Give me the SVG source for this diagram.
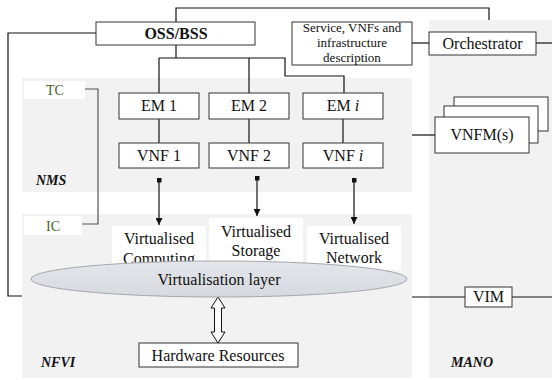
<svg xmlns="http://www.w3.org/2000/svg" width="552" height="380" viewBox="0 0 552 380">
<defs>
<style>
.region{fill:#f2f2f2;stroke:none}
.box{fill:#ffffff;stroke:#333333;stroke-width:1}
.wbox{fill:#ffffff;stroke:none}
.t{font-family:"Liberation Serif","Times New Roman",serif;font-size:16px;fill:#111111;text-anchor:middle}
.s{font-size:13px}
.b{font-weight:bold}
.bi{font-family:"Liberation Serif","Times New Roman",serif;font-size:14px;font-weight:bold;font-style:italic;fill:#111111}
.g{fill:#4f6228;font-size:14px}
.ln{fill:none;stroke:#111111;stroke-width:1.2}
.gl{fill:none;stroke:#555555;stroke-width:1.2}
</style>
<marker id="arr" viewBox="0 0 10 10" refX="10" refY="5" markerWidth="7" markerHeight="7" markerUnits="userSpaceOnUse" orient="auto">
<path d="M0,0 L10,5 L0,10 z" fill="#111111"/>
</marker>
<marker id="sq" viewBox="0 0 10 10" refX="5" refY="5" markerWidth="5" markerHeight="5" markerUnits="userSpaceOnUse" orient="auto">
<rect x="0" y="0" width="10" height="10" fill="#111111"/>
</marker>
<linearGradient id="eg" x1="0" y1="0" x2="0" y2="1">
<stop offset="0" stop-color="#e4e6ea"/>
<stop offset="1" stop-color="#d6d9df"/>
</linearGradient>
</defs>

<g id="regions">
<rect id="nms-region" class="region" x="22" y="78" width="390" height="114"/>
<rect id="nfvi-region" class="region" x="22" y="214" width="390" height="164"/>
<rect id="mano-region" class="region" x="429" y="20" width="123" height="358"/>
</g>

<g id="connectors">
<polyline class="ln" points="176,22 176,8 489,8 489,20"/>
<polyline class="ln" points="96,33 8,33 8,296 22,296"/>
<polyline class="ln" points="176,45 176,58"/>
<polyline class="ln" points="159,58 285,58 285,76 344,76 344,93"/>
<polyline class="ln" points="159,58 159,93"/>
<polyline class="ln" points="249,58 249,93"/>
<polyline class="ln" points="159,119 159,143"/>
<polyline class="ln" points="249,119 249,143"/>
<polyline class="ln" points="343,119 343,143"/>
<polyline class="gl" points="85,89 98,89 98,224 82,224"/>
<line class="ln" x1="159" y1="180" x2="159" y2="225" marker-start="url(#sq)" marker-end="url(#arr)"/>
<line class="ln" x1="257" y1="178" x2="257" y2="216" marker-start="url(#sq)" marker-end="url(#arr)"/>
<line class="ln" x1="354" y1="180" x2="354" y2="224" marker-start="url(#sq)" marker-end="url(#arr)"/>
<line class="ln" x1="412" y1="43" x2="429" y2="43"/>
<line class="ln" x1="536" y1="43" x2="552" y2="43"/>
<line class="ln" x1="412" y1="135" x2="435" y2="135"/>
<line class="ln" x1="412" y1="297" x2="465" y2="297"/>
<line class="ln" x1="512" y1="297" x2="552" y2="297"/>
<path d="M218,297 L225,308 L221.5,308 L221.5,332 L225,332 L218,343 L211,332 L214.5,332 L214.5,308 L211,308 Z" fill="#ffffff" stroke="#111111" stroke-width="1"/>
</g>

<g id="oss-bss">
<rect class="box" x="96" y="22" width="159" height="23"/>
<text class="t b" x="176" y="39" font-size="15">OSS/BSS</text>
</g>

<g id="service-desc">
<rect class="box" x="292" y="22" width="120" height="43"/>
<text class="t s" x="352" y="32">Service, VNFs and</text>
<text class="t s" x="352" y="47">infrastructure</text>
<text class="t s" x="352" y="62">description</text>
</g>

<g id="orchestrator">
<rect class="box" x="429" y="32" width="107" height="23"/>
<text class="t" x="482.5" y="49">Orchestrator</text>
</g>

<g id="vnfm">
<rect class="box" x="454" y="97" width="94" height="34"/>
<rect class="box" x="444" y="106" width="94" height="37"/>
<rect class="box" x="435" y="117" width="94" height="36"/>
<text class="t" x="482" y="140">VNFM(s)</text>
</g>

<g id="tc">
<rect class="wbox" x="24" y="81" width="61" height="18"/>
<text class="t g" x="55" y="95">TC</text>
</g>

<g id="ic">
<rect class="wbox" x="24" y="216" width="58" height="19"/>
<text class="t g" x="53" y="231">IC</text>
</g>

<g id="em1">
<rect class="box" x="119" y="93" width="80" height="26"/>
<text class="t" x="159" y="111">EM 1</text>
</g>
<g id="em2">
<rect class="box" x="209" y="93" width="80" height="26"/>
<text class="t" x="249" y="111">EM 2</text>
</g>
<g id="emi">
<rect class="box" x="303" y="93" width="80" height="26"/>
<text class="t" x="343" y="111">EM <tspan font-style="italic">i</tspan></text>
</g>
<g id="vnf1">
<rect class="box" x="119" y="143" width="80" height="25"/>
<text class="t" x="159" y="161">VNF 1</text>
</g>
<g id="vnf2">
<rect class="box" x="209" y="143" width="80" height="25"/>
<text class="t" x="249" y="161">VNF 2</text>
</g>
<g id="vnfi">
<rect class="box" x="303" y="143" width="80" height="25"/>
<text class="t" x="343" y="161">VNF <tspan font-style="italic">i</tspan></text>
</g>

<g id="v-computing">
<rect class="wbox" x="112" y="226" width="94" height="44"/>
<text class="t" x="159" y="244">Virtualised</text>
<text class="t" x="159" y="264">Computing</text>
</g>
<g id="v-storage">
<rect class="wbox" x="209" y="218" width="94" height="50"/>
<text class="t" x="256" y="237">Virtualised</text>
<text class="t" x="256" y="256">Storage</text>
</g>
<g id="v-network">
<rect class="wbox" x="307" y="226" width="94" height="44"/>
<text class="t" x="354" y="244">Virtualised</text>
<text class="t" x="354" y="263">Network</text>
</g>

<g id="virtualisation-layer">
<ellipse cx="219" cy="279" rx="188" ry="18" fill="url(#eg)" stroke="#a4a8ae" stroke-width="1"/>
<text class="t" x="219" y="285">Virtualisation layer</text>
</g>

<g id="hardware">
<rect class="box" x="139" y="343" width="159" height="24"/>
<text class="t" x="218" y="361">Hardware Resources</text>
</g>

<g id="vim">
<rect class="box" x="465" y="287" width="47" height="20"/>
<text class="t" x="488.5" y="302">VIM</text>
</g>

<g id="labels">
<text class="bi" x="36" y="185">NMS</text>
<text class="bi" x="41" y="367">NFVI</text>
<text class="bi" x="451" y="367">MANO</text>
</g>
</svg>
